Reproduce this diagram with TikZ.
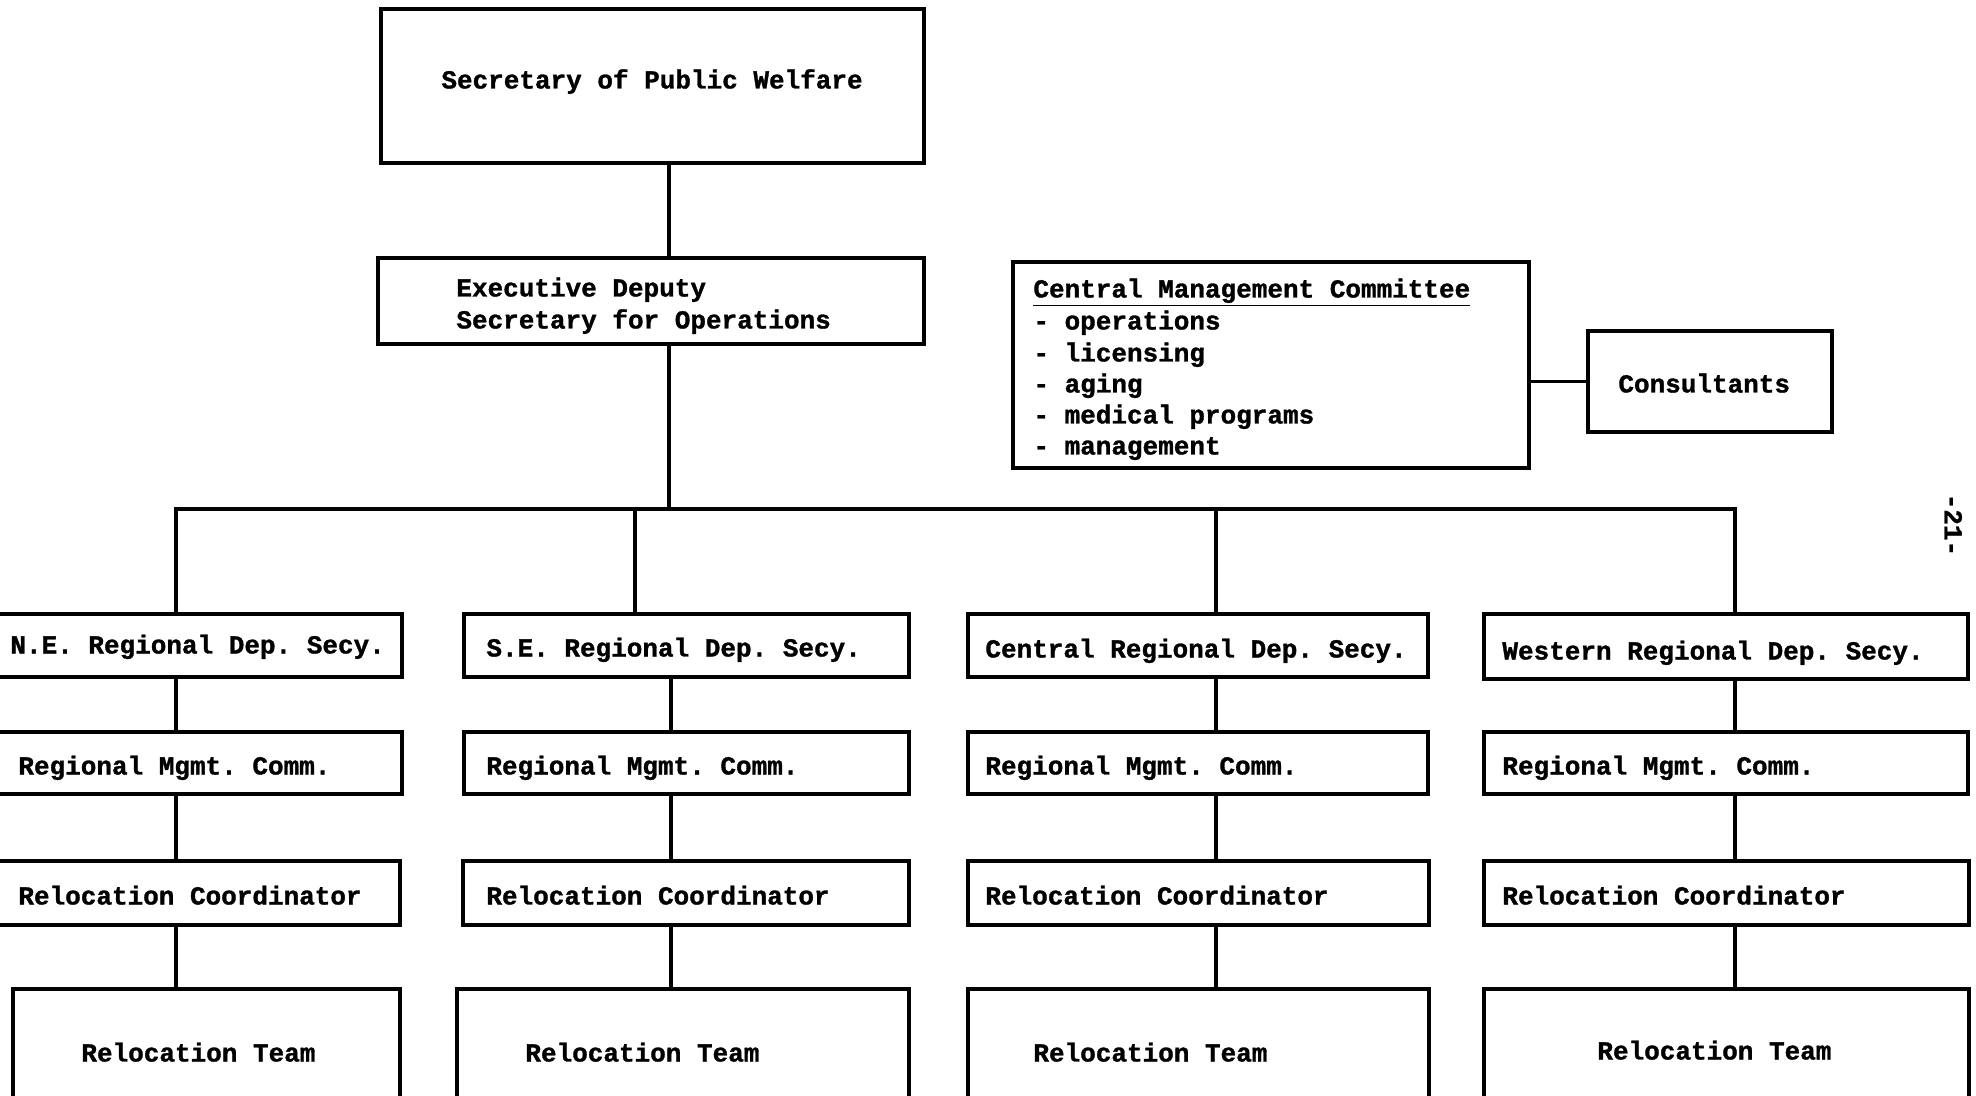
\documentclass[tikz,border=0pt]{standalone}
\usepackage{fontspec}
\setmainfont{Liberation Mono}[BoldFeatures={FakeBold=1.2}]
\usetikzlibrary{fit}
\begin{document}
\frenchspacing
\begin{tikzpicture}[x=0.5pt,y=-0.5pt,
  box/.style={draw, line width=1.6pt, inner sep=0pt},
  wire/.style={line width=1.6pt},
  txt/.style={font=\bfseries\fontsize{13}{15.7}\selectfont, inner sep=0pt, anchor=west, text height=9.5pt, text depth=3pt}]
\fill[white] (0,0) rectangle (1976,1096);
\useasboundingbox (0,0) rectangle (1976,1096);
\clip (0,0) rectangle (1976,1096);

% top boxes
\node[box, fit={(381,9)(924,163)}] (sec) {};
\node[box, fit={(378,258)(924,344)}] (exec) {};
\node[box, fit={(1013,262)(1529,468)}] (cmc) {};
\node[box, fit={(1588,331)(1832,432)}] (cons) {};

% N.E. column
\node[box, fit={(-10,614)(402,677)}] (ne1) {};
\node[box, fit={(-10,732)(402,794)}] (ne2) {};
\node[box, fit={(-10,861)(400,925)}] (ne3) {};
\node[box, fit={(13,989)(400,1120)}] (ne4) {};
% S.E. column
\node[box, fit={(464,614)(909,677)}] (se1) {};
\node[box, fit={(464,732)(909,794)}] (se2) {};
\node[box, fit={(463,861)(909,925)}] (se3) {};
\node[box, fit={(457,989)(909,1120)}] (se4) {};
% Central column
\node[box, fit={(968,614)(1428,677)}] (ce1) {};
\node[box, fit={(968,732)(1428,794)}] (ce2) {};
\node[box, fit={(968,861)(1429,925)}] (ce3) {};
\node[box, fit={(968,989)(1429,1120)}] (ce4) {};
% Western column
\node[box, fit={(1484,614)(1968,679)}] (we1) {};
\node[box, fit={(1484,732)(1968,794)}] (we2) {};
\node[box, fit={(1484,861)(1969,925)}] (we3) {};
\node[box, fit={(1484,989)(1969,1120)}] (we4) {};

% junction coordinates
\coordinate (j0) at (669,509);
\coordinate (jne) at (176,509);
\coordinate (jse) at (635,509);
\coordinate (jce) at (1216,509);
\coordinate (jwe) at (1735,509);
\coordinate (xne) at (176,0);
\coordinate (xse) at (671,0);
\coordinate (xce) at (1216,0);
\coordinate (xwe) at (1735,0);

% connectors
\draw[wire] (sec.south -| j0) -- (exec.north -| j0);
\draw[wire] (exec.south -| j0) -- (j0);
\draw[wire] (jne |- ne1.north) -- (jne) -- (jwe) -- (jwe |- we1.north);
\draw[wire] (jse) -- (jse |- se1.north);
\draw[wire] (jce) -- (jce |- ce1.north);
\draw[wire] (cmc.east |- cons.west) -- (cons.west);
\foreach \c in {ne,se,ce,we}{
  \draw[wire] (\c1.south -| x\c) -- (\c2.north -| x\c);
  \draw[wire] (\c2.south -| x\c) -- (\c3.north -| x\c);
  \draw[wire] (\c3.south -| x\c) -- (\c4.north -| x\c);
}

% texts
\node[txt] (tsec) at (441,82) {Secretary of Public Welfare};
\node[txt] (texa) at (456,290) {Executive Deputy};
\node[txt] (texb) at (456,322) {Secretary for Operations};
\node[txt] (tcm0) at (1033,291) {\underline{Central Management Committee}};
\node[txt] (tcm1) at (1033,323) {- operations};
\node[txt] (tcm2) at (1033,355) {- licensing};
\node[txt] (tcm3) at (1033,386) {- aging};
\node[txt] (tcm4) at (1033,417) {- medical programs};
\node[txt] (tcm5) at (1033,448) {- management};
\node[txt] (tcons) at (1618,386) {Consultants};

\node[txt] (tne1) at (10,647) {N.E. Regional Dep. Secy.};
\node[txt] (tne2) at (18,768) {Regional Mgmt. Comm.};
\node[txt] (tne3) at (18,898) {Relocation Coordinator};
\node[txt] (tne4) at (81,1055) {Relocation Team};

\node[txt] (tse1) at (486,650) {S.E. Regional Dep. Secy.};
\node[txt] (tse2) at (486,768) {Regional Mgmt. Comm.};
\node[txt] (tse3) at (486,898) {Relocation Coordinator};
\node[txt] (tse4) at (525,1055) {Relocation Team};

\node[txt] (tce1) at (985,651) {Central Regional Dep. Secy.};
\node[txt] (tce2) at (985,768) {Regional Mgmt. Comm.};
\node[txt] (tce3) at (985,898) {Relocation Coordinator};
\node[txt] (tce4) at (1033,1055) {Relocation Team};

\node[txt] (twe1) at (1502,653) {Western Regional Dep. Secy.};
\node[txt] (twe2) at (1502,768) {Regional Mgmt. Comm.};
\node[txt] (twe3) at (1502,898) {Relocation Coordinator};
\node[txt] (twe4) at (1597,1053) {Relocation Team};

\node[txt, anchor=center, rotate=-90] (pg) at (1951,525) {-21-};
\end{tikzpicture}
\end{document}
